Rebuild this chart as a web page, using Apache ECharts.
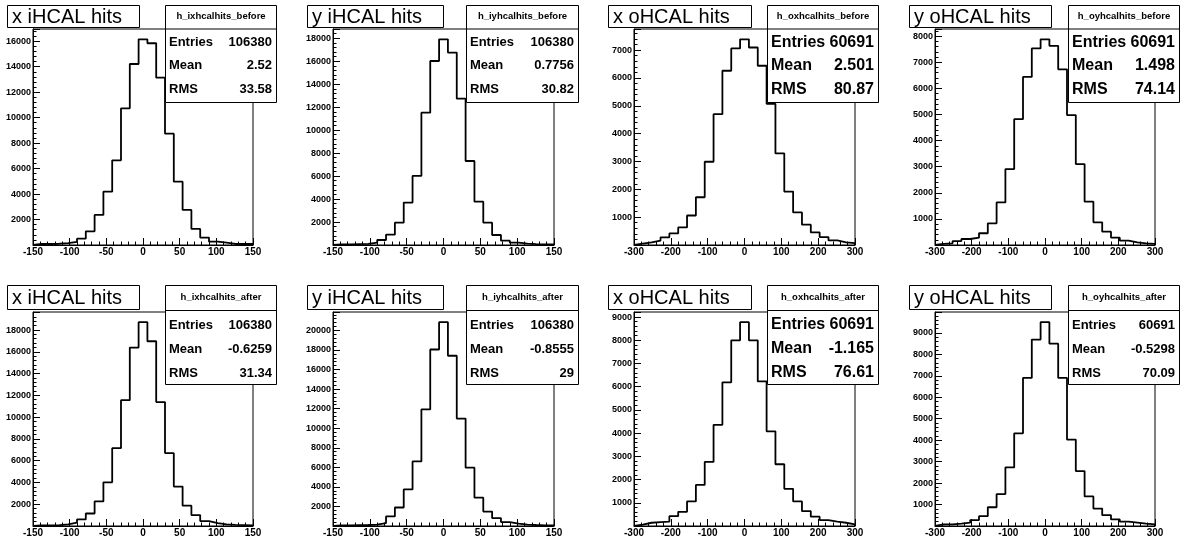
<!DOCTYPE html>
<html>
<head>
<meta charset="utf-8">
<script src="https://cdn.jsdelivr.net/npm/echarts@6/dist/echarts.min.js"></script>
<style>
  html, body { margin: 0; padding: 0; background: #fff; }
  #c { width: 1187px; height: 538px; }
</style>
</head>
<body>
<div id="c"></div>
<script>
// Bin contents: 25 equal-width bins per histogram, left to right.
const ixBefore = [80, 80, 100, 150, 250, 500, 1070, 2360, 4190, 6650, 10730, 14210, 16150, 15840, 13140, 8740, 4970, 2750, 1260, 580, 260, 180, 80, 80, 80];
const iyBefore = [60, 60, 80, 100, 200, 435, 900, 1945, 3690, 6010, 11520, 16020, 17910, 16750, 12740, 7315, 3770, 1945, 870, 377, 200, 120, 80, 60, 60];
const oxBefore = [48, 95, 155, 275, 415, 630, 1060, 1715, 2990, 4700, 6260, 7060, 7390, 7095, 6440, 5070, 3290, 1920, 1170, 730, 450, 285, 165, 95, 70];
const oyBefore = [40, 65, 150, 230, 280, 450, 830, 1630, 2910, 4820, 6440, 7530, 7880, 7630, 6730, 4975, 3100, 1660, 870, 510, 280, 165, 100, 65, 40];
const ixAfter  = [60, 60, 80, 150, 300, 600, 1150, 2260, 4015, 7150, 11560, 16390, 18720, 16970, 11380, 6700, 3620, 1870, 1000, 450, 270, 150, 100, 80, 60];
const iyAfter  = [60, 60, 80, 100, 150, 300, 980, 1890, 3740, 6600, 11920, 18050, 20840, 17410, 10980, 5960, 2900, 1480, 810, 400, 235, 150, 100, 60, 60];
const oxAfter  = [60, 140, 170, 185, 425, 610, 1060, 1770, 2760, 4360, 6190, 8000, 8780, 8000, 6230, 4080, 2660, 1600, 1060, 640, 400, 255, 185, 140, 70];
const oyAfter  = [75, 75, 110, 155, 275, 460, 875, 1490, 2730, 4320, 6900, 8690, 9500, 8500, 6900, 4030, 2560, 1380, 810, 505, 305, 200, 155, 110, 75];

// Pad texts
const titles = ['x iHCAL hits', 'y iHCAL hits', 'x oHCAL hits', 'y oHCAL hits',
                'x iHCAL hits', 'y iHCAL hits', 'x oHCAL hits', 'y oHCAL hits'];
const histNames = ['h_ixhcalhits_before', 'h_iyhcalhits_before', 'h_oxhcalhits_before', 'h_oyhcalhits_before',
                   'h_ixhcalhits_after', 'h_iyhcalhits_after', 'h_oxhcalhits_after', 'h_oyhcalhits_after'];
const entries = ['106380', '106380', '60691', '60691', '106380', '106380', '60691', '60691'];
const means = ['2.52', '0.7756', '2.501', '1.498', '-0.6259', '-0.8555', '-1.165', '-0.5298'];
const rmsValues = ['33.58', '30.82', '80.87', '74.14', '31.34', '29', '76.61', '70.09'];

// Axis ranges and tick steps
const xRangeInner = [-150, 150];
const xRangeOuter = [-300, 300];
const xTickInner = 50;
const xTickOuter = 100;
const yTickSteps = [2000, 2000, 1000, 1000, 2000, 2000, 1000, 1000];

const histograms = [ixBefore, iyBefore, oxBefore, oyBefore, ixAfter, iyAfter, oxAfter, oyAfter];

// ---- layout (pixels) ----
const colFrameLeft = [33, 333, 634, 935];
const colFrameWidth = [220, 221, 221, 220];
const rowFrameTop = [29, 312];
const rowFrameHeight = [216, 214];
const colTitleX = [7, 307, 608, 909];
const colTitleW = [132, 136, 143, 142];
const colStatsX = [165, 466, 767, 1068];
const colStatsW = [111, 112, 111, 111];
const rowTitleY = [5, 285];
const rowTitleH = [22, 24];
const rowStatsY = [5, 285];
const rowStatsH = [97, 99];
const rowStatsSep = [28.5, 310];
const rowTextY = [[16.5, 42.5, 65.5, 89.5], [297.5, 325, 349, 373]];
const largeStatsFont = [false, false, true, true, false, false, true, false];

const FONT = '"Liberation Sans", Arial, Helvetica, sans-serif';

function stepPoints(bins, lo, hi) {
  const w = (hi - lo) / bins.length;
  const pts = [[lo, 0]];
  bins.forEach((v, i) => {
    pts.push([lo + i * w, v], [lo + (i + 1) * w, v]);
  });
  pts.push([hi, 0]);
  return pts;
}

const grids = [], xAxes = [], yAxes = [], series = [], graphics = [];

histograms.forEach((bins, k) => {
  const col = k % 4, row = Math.floor(k / 4);
  const outer = col >= 2;
  const xr = outer ? xRangeOuter : xRangeInner;
  const yStep = yTickSteps[k];
  const yMax = Math.max.apply(null, bins) * 1.05;

  grids.push({
    left: colFrameLeft[col], top: rowFrameTop[row],
    width: colFrameWidth[col], height: rowFrameHeight[row],
    show: true, borderColor: '#000', borderWidth: 1, backgroundColor: 'transparent',
    containLabel: false, outerBoundsMode: 'none'
  });

  xAxes.push({
    type: 'value', gridIndex: k, min: xr[0], max: xr[1], position: 'bottom',
    interval: outer ? xTickOuter : xTickInner,
    axisLine: { show: true, onZero: false, lineStyle: { color: '#000', width: 1 } },
    axisTick: { show: true, inside: true, length: 7, lineStyle: { color: '#000', width: 1 } },
    minorTick: { show: true, splitNumber: 5, length: 3.5, lineStyle: { color: '#000', width: 1 } },
    splitLine: { show: false },
    axisLabel: {
      show: true, margin: 2, color: '#000', fontSize: 10, fontWeight: 'bold', fontFamily: FONT,
      showMinLabel: true, showMaxLabel: true, hideOverlap: false
    }
  });

  yAxes.push({
    type: 'value', gridIndex: k, min: 0, max: yMax, interval: yStep, position: 'left',
    axisLine: { show: true, onZero: false, lineStyle: { color: '#000', width: 1 } },
    axisTick: { show: true, inside: true, length: 7, lineStyle: { color: '#000', width: 1 } },
    minorTick: { show: true, splitNumber: 5, length: 3.5, lineStyle: { color: '#000', width: 1 } },
    splitLine: { show: false },
    axisLabel: {
      show: true, margin: 2, color: '#000', fontSize: 9, fontWeight: 'bold', fontFamily: FONT,
      formatter: v => (v === 0 || v % yStep !== 0) ? '' : String(v)
    }
  });

  series.push({
    type: 'line', xAxisIndex: k, yAxisIndex: k,
    data: stepPoints(bins, xr[0], xr[1]),
    showSymbol: false, symbol: 'none', clip: true,
    lineStyle: { color: '#000', width: 1.8 },
    silent: true, z: 3
  });

  // Title box
  const tx = colTitleX[col], ty = rowTitleY[row];
  graphics.push({
    type: 'rect', z: 100,
    shape: { x: tx + 0.5, y: ty + 0.5, width: colTitleW[col], height: rowTitleH[row] },
    style: { fill: '#fff', stroke: '#000', lineWidth: 1 }
  });
  graphics.push({
    type: 'text', z: 101, x: tx + 5, y: ty + rowTitleH[row] / 2 + 1,
    style: { text: titles[k], fontSize: 20, fontFamily: FONT, fill: '#000', align: 'left', verticalAlign: 'middle' }
  });

  // Statistics box
  const sx = colStatsX[col], sy = rowStatsY[row], sw = colStatsW[col];
  const ys = rowTextY[row];
  const big = largeStatsFont[k];
  const fs = big ? 16 : 13;
  graphics.push({
    type: 'rect', z: 100,
    shape: { x: sx + 0.5, y: sy + 0.5, width: sw, height: rowStatsH[row] },
    style: { fill: '#fff', stroke: '#000', lineWidth: 1 }
  });
  graphics.push({
    type: 'line', z: 101,
    shape: { x1: sx, y1: rowStatsSep[row] + 0.5, x2: sx + sw, y2: rowStatsSep[row] + 0.5 },
    style: { stroke: '#000', lineWidth: 1 }
  });
  graphics.push({
    type: 'text', z: 101, x: sx + sw / 2 + 0.5, y: ys[0],
    style: { text: histNames[k], fontSize: 9.5, fontWeight: 'bold', fontFamily: FONT, fill: '#000', align: 'center', verticalAlign: 'middle' }
  });
  const rows = [['Entries', entries[k]], ['Mean', means[k]], ['RMS', rmsValues[k]]];
  rows.forEach((r, i) => {
    graphics.push({
      type: 'text', z: 101, x: sx + 4, y: ys[i + 1],
      style: { text: r[0], fontSize: fs, fontWeight: 'bold', fontFamily: FONT, fill: '#000', align: 'left', verticalAlign: 'middle' }
    });
    graphics.push({
      type: 'text', z: 101, x: sx + sw - 4, y: ys[i + 1],
      style: { text: r[1], fontSize: fs, fontWeight: 'bold', fontFamily: FONT, fill: '#000', align: 'right', verticalAlign: 'middle' }
    });
  });
});

const chart = echarts.init(document.getElementById('c'), null, { renderer: 'canvas' });
chart.setOption({
  animation: false,
  backgroundColor: '#fff',
  grid: grids,
  xAxis: xAxes,
  yAxis: yAxes,
  series: series,
  graphic: graphics
});
</script>
</body>
</html>
